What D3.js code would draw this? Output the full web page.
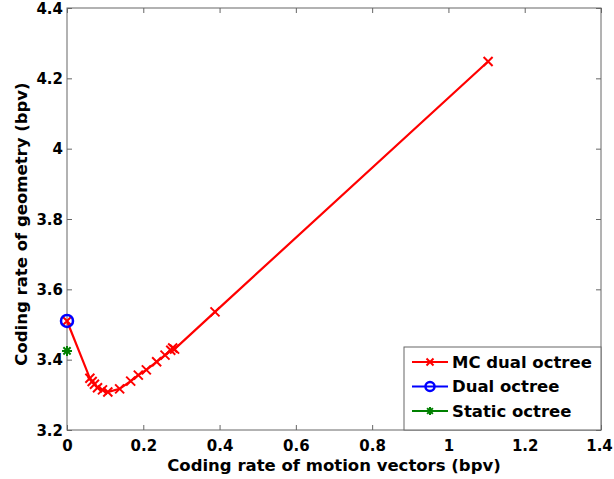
<!DOCTYPE html>
<html><head><meta charset="utf-8">
<script src="https://cdn.jsdelivr.net/npm/d3@7"></script>
<style>body{margin:0;background:#fff}text{font-family:"DejaVu Sans",sans-serif;font-weight:bold}</style>
</head><body><svg id="c" width="614" height="479"></svg>
<script>
const mcX = [0, 0.060, 0.066, 0.072, 0.080, 0.093, 0.107, 0.138, 0.167, 0.187, 0.208, 0.235, 0.257, 0.272, 0.277, 0.282, 0.388, 1.104];
const mcY = [3.51, 3.347, 3.338, 3.330, 3.320, 3.314, 3.308, 3.317, 3.339, 3.356, 3.371, 3.394, 3.413, 3.427, 3.433, 3.430, 3.536, 4.248];
const dualX = [0];
const dualY = [3.51];
const staticX = [0];
const staticY = [3.425];
const xTicks = [0, 0.2, 0.4, 0.6, 0.8, 1, 1.2, 1.4];
const yTicks = [3.2, 3.4, 3.6, 3.8, 4, 4.2, 4.4];
const legendNames = ["MC dual octree", "Dual octree", "Static octree"];

const svg = d3.select("#c");
const L = 67, R = 601, T = 8, B = 430;
const x = d3.scaleLinear().domain([0, 1.4]).range([L, R]);
const y = d3.scaleLinear().domain([3.2, 4.4]).range([B, T]);
const axisCol = "#666";
const FS = "16.5px";
const TFS = "15px";

svg.append("rect").attr("x", L).attr("y", T).attr("width", R - L).attr("height", B - T)
  .attr("fill", "none").attr("stroke", axisCol).attr("stroke-width", 1);

const fmt = d => String(d);
const gx = svg.append("g").attr("transform", `translate(0,${B})`)
  .call(d3.axisBottom(x).tickValues(xTicks).tickFormat(fmt).tickSizeInner(-5).tickSizeOuter(0).tickPadding(12));
const gxt = svg.append("g").attr("transform", `translate(0,${T})`)
  .call(d3.axisTop(x).tickValues(xTicks).tickFormat("").tickSizeInner(-5).tickSizeOuter(0));
const gy = svg.append("g").attr("transform", `translate(${L},0)`)
  .call(d3.axisLeft(y).tickValues(yTicks).tickFormat(fmt).tickSizeInner(-5).tickSizeOuter(0).tickPadding(4));
const gyr = svg.append("g").attr("transform", `translate(${R},0)`)
  .call(d3.axisRight(y).tickValues(yTicks).tickFormat("").tickSizeInner(-5).tickSizeOuter(0));
[gx, gxt, gy, gyr].forEach(g => {
  g.select(".domain").remove();
  g.selectAll("line").attr("stroke", axisCol);
  g.selectAll("text").attr("fill", "#000").style("font-size", TFS).style("font-family", '"DejaVu Sans",sans-serif').style("font-weight", "bold");
});
gx.selectAll("text").attr("dy", "0.6em").attr("dx", d => d === 1.4 ? -2 : 0);
gy.selectAll("text").attr("dy", "0.35em");

svg.append("text").attr("x", 334).attr("y", 470.5).attr("text-anchor", "middle")
  .style("font-size", FS).text("Coding rate of motion vectors (bpv)");
svg.append("text").attr("transform", `translate(27,224) rotate(-90)`).attr("text-anchor", "middle")
  .style("font-size", FS).text("Coding rate of geometry (bpv)");

function cross(g, cx, cy, col, s = 4.5) {
  g.append("path").attr("d", `M${cx - s},${cy - s}L${cx + s},${cy + s}M${cx - s},${cy + s}L${cx + s},${cy - s}`)
    .attr("stroke", col).attr("stroke-width", 2).attr("fill", "none");
}
function star(g, cx, cy, col, s = 5) {
  const d = s * 0.72;
  g.append("path").attr("d", `M${cx - s},${cy}L${cx + s},${cy}M${cx},${cy - s}L${cx},${cy + s}M${cx - d},${cy - d}L${cx + d},${cy + d}M${cx - d},${cy + d}L${cx + d},${cy - d}`)
    .attr("stroke", col).attr("stroke-width", 2).attr("fill", "none");
}
function circ(g, cx, cy, col, r = 6) {
  g.append("circle").attr("cx", cx).attr("cy", cy).attr("r", r).attr("fill", "none").attr("stroke", col).attr("stroke-width", 2.5);
}

const mc = mcX.map((v, i) => [v, mcY[i]]);
const line = d3.line().x(d => x(d[0])).y(d => y(d[1]));
svg.append("path").datum(mc).attr("d", line).attr("fill", "none").attr("stroke", "#f00").attr("stroke-width", 2.2);
const gm = svg.append("g");
mc.forEach(d => cross(gm, x(d[0]), y(d[1]), "#f00"));
dualX.forEach((v, i) => circ(gm, x(v), y(dualY[i]), "#00f"));
staticX.forEach((v, i) => star(gm, x(v), y(staticY[i]), "#008000"));

const lg = svg.append("g");
lg.append("rect").attr("x", 404).attr("y", 347).attr("width", R - 404).attr("height", B - 347)
  .attr("fill", "#fff").attr("stroke", axisCol).attr("stroke-width", 1);
const cols = ["#f00", "#00f", "#008000"];
legendNames.forEach((n, i) => {
  const yy = 362 + i * 24.5;
  lg.append("line").attr("x1", 412).attr("x2", 448).attr("y1", yy).attr("y2", yy).attr("stroke", cols[i]).attr("stroke-width", 2.2);
  if (i === 0) cross(lg, 430, yy, cols[i], 3.5);
  else if (i === 1) circ(lg, 430, yy, cols[i], 4.5);
  else star(lg, 430, yy, cols[i], 4);
  lg.append("text").attr("x", 452).attr("y", yy).attr("dy", "0.36em").style("font-size", FS).text(n);
});
</script></body></html>
